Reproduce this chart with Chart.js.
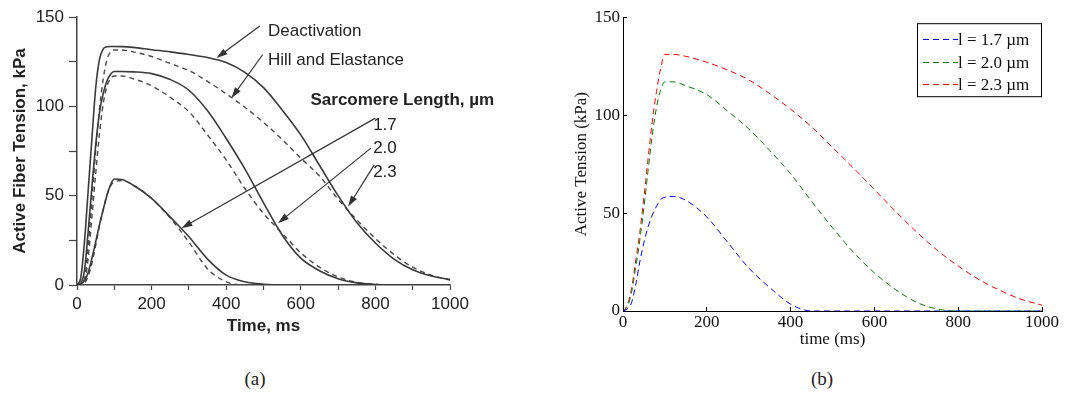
<!DOCTYPE html>
<html>
<head>
<meta charset="utf-8">
<script src="https://cdn.jsdelivr.net/npm/chart.js@4.4.0/dist/chart.umd.min.js"></script>
<style>
  html, body { margin: 0; padding: 0; background: #fff; }
  body { width: 1066px; height: 395px; position: relative; overflow: hidden; }
  #boxA { position: absolute; left: 0; top: 0; width: 530px; height: 340px; }
  #boxB { position: absolute; left: 540px; top: 0; width: 526px; height: 360px; }
  .cap { position: absolute; top: 369px; width: 100px; text-align: center; line-height: 1;
         font-family: "Liberation Serif", serif; font-size: 19px; color: #222; }
</style>
</head>
<body>
<div id="boxA"><canvas id="chartA"></canvas></div>
<div id="boxB"><canvas id="chartB"></canvas></div>
<div class="cap" style="left:205px">(a)</div>
<div class="cap" style="left:772px">(b)</div>
<script>
// time samples (ms), shared by both panels
const timeA = [0, 10, 20, 30, 40, 50, 60, 70, 80, 90, 100, 120, 150, 200, 250, 300, 350, 400, 450, 500, 550, 600, 650, 700, 750, 800, 850, 900, 950, 1000];
const timeB = timeA;

// (a) published curves: deactivation model (solid) and Hill/elastance model (dashed), kPa
const deact17 = [0, 0.5, 2.5, 7, 15, 24, 33.5, 42, 50, 56, 59.3, 59, 56, 48.5, 38, 27, 14.5, 5.5, 1.8, 0.4, 0, 0, 0, 0, 0, 0, 0, 0, 0, 0];
const deact20 = [0, 1, 8, 30, 55, 78, 96, 107, 114, 118, 119.5, 119.5, 119.3, 118.3, 115, 109, 97.5, 82, 65, 46, 28, 15, 8, 3.5, 1.2, 0.3, 0, 0, 0, 0];
const deact23 = [0, 4, 24, 53, 82, 110, 126, 132, 133.3, 133.5, 133.5, 133.4, 133, 131.7, 130.5, 129, 127.3, 124.5, 119, 110.5, 98, 84, 67, 50, 35, 23.5, 14.5, 8.5, 5, 3];
const hill17 = [0, 0, 1, 5, 12, 22, 33, 42, 50, 55.5, 57.5, 58.5, 56, 48.5, 37.5, 24, 9, 1.8, 0, 0, 0, 0, 0, 0, 0, 0, 0, 0, 0, 0];
const hill20 = [0, 0.3, 2, 15, 38, 62, 84, 101, 111, 115.5, 117, 117, 115.5, 111.5, 105, 97, 84, 70, 54, 40, 29, 18, 10, 4.5, 1.5, 0.4, 0, 0, 0, 0];
const hill23 = [0, 0.5, 3, 22, 48, 75, 98, 115, 126, 130.5, 131.5, 131.5, 130.5, 127.9, 124, 120, 114, 107, 99.5, 91, 81.5, 71, 61, 48, 36.5, 26, 17, 10, 5.5, 2.8];

// (b) model curves, kPa
const model17 = [0, 1, 4, 13, 25, 35, 43, 49, 53.5, 57, 58, 58.5, 56.5, 48, 35, 22, 12, 3.5, 0, 0, 0, 0, 0, 0, 0, 0, 0, 0, 0, 0];
const model20 = [0, 2, 9, 22, 36, 53, 72, 90, 104, 113, 117, 117, 115, 110.5, 102, 93, 82, 70, 56, 42.5, 30, 19.5, 11, 4.5, 1, 0, 0, 0, 0, 0];
const model23 = [0, 3, 11, 25, 40, 58, 78, 97, 112, 124, 131, 131, 130, 127, 123, 118, 111, 103, 94, 83.5, 73, 62, 51, 40.5, 31, 23, 16, 10.5, 6, 3];
const legendLabelsB = ['l = 1.7 \u00b5m', 'l = 2.0 \u00b5m', 'l = 2.3 \u00b5m'];

// tick labels
const xTickLabelsA = [0, 200, 400, 600, 800, 1000];
const yTickLabelsA = [0, 50, 100, 150];

// annotations of panel (a), in data units (text is vertically centred on y)
const notesA = [
  { text: 'Deactivation', x: 512, y: 141.8 },
  { text: 'Hill and Elastance', x: 512, y: 125.5 },
  { text: 'Sarcomere Length, \u00b5m', x: 626, y: 103.6, bold: true },
  { text: '1.7', x: 794, y: 89.2 },
  { text: '2.0', x: 794, y: 76.3 },
  { text: '2.3', x: 794, y: 63.3 }
];
const arrowsA = [
  { x1: 490, y1: 145, x2: 374, y2: 127 },
  { x1: 498, y1: 129, x2: 414, y2: 104.6 },
  { x1: 800, y1: 93.4, x2: 280, y2: 31.8 },
  { x1: 788, y1: 76.6, x2: 539, y2: 34.6 },
  { x1: 797, y1: 67.2, x2: 727, y2: 43.9 }
];

const pts = (t, v) => t.map((x, i) => ({ x: x, y: v[i] }));

const annotA = {
  id: 'annotA',
  afterDatasetsDraw(chart) {
    const { ctx, scales: { x, y } } = chart;
    ctx.save();
    ctx.fillStyle = '#222';
    ctx.textAlign = 'left';
    ctx.textBaseline = 'middle';
    notesA.forEach(n => {
      ctx.font = (n.bold ? 'bold ' : '') + '17px "Liberation Sans", Arial, sans-serif';
      ctx.fillText(n.text, x.getPixelForValue(n.x), y.getPixelForValue(n.y));
    });
    ctx.strokeStyle = '#333';
    ctx.fillStyle = '#333';
    ctx.lineWidth = 1.2;
    arrowsA.forEach(a => {
      const x1 = x.getPixelForValue(a.x1), y1 = y.getPixelForValue(a.y1);
      const x2 = x.getPixelForValue(a.x2), y2 = y.getPixelForValue(a.y2);
      const ang = Math.atan2(y2 - y1, x2 - x1);
      ctx.beginPath();
      ctx.moveTo(x1, y1);
      ctx.lineTo(x2 - 8 * Math.cos(ang), y2 - 8 * Math.sin(ang));
      ctx.stroke();
      ctx.beginPath();
      ctx.moveTo(x2, y2);
      ctx.lineTo(x2 - 11 * Math.cos(ang) + 3.5 * Math.sin(ang), y2 - 11 * Math.sin(ang) - 3.5 * Math.cos(ang));
      ctx.lineTo(x2 - 11 * Math.cos(ang) - 3.5 * Math.sin(ang), y2 - 11 * Math.sin(ang) + 3.5 * Math.cos(ang));
      ctx.closePath();
      ctx.fill();
    });
    ctx.restore();
  }
};

const legendB = {
  id: 'legendB',
  afterDraw(chart) {
    const { ctx, chartArea } = chart;
    const x0 = chartArea.right - 125, y0 = chartArea.top + 6;
    ctx.save();
    ctx.fillStyle = '#fff';
    ctx.fillRect(x0, y0, 124, 73);
    ctx.strokeStyle = '#000';
    ctx.lineWidth = 1;
    ctx.strokeRect(x0 + 0.5, y0 + 0.5, 124, 73);
    ctx.font = '17px "Liberation Serif", "Times New Roman", serif';
    ctx.textBaseline = 'middle';
    ctx.textAlign = 'left';
    chart.data.datasets.forEach((ds, i) => {
      const cy = Math.round(y0 + 15.7 + i * 22.7) + 0.5;
      ctx.strokeStyle = ds.borderColor;
      ctx.setLineDash(ds.borderDash);
      ctx.beginPath();
      ctx.moveTo(x0 + 6, cy);
      ctx.lineTo(x0 + 41, cy);
      ctx.stroke();
      ctx.setLineDash([]);
      ctx.fillStyle = '#111';
      ctx.fillText(ds.label, x0 + 41, cy + 1);
    });
    ctx.restore();
  }
};

const sansA = '"Liberation Sans", Arial, sans-serif';
const solidA = { borderColor: '#3a3a3a', borderWidth: 1.6, pointRadius: 0, cubicInterpolationMode: 'monotone' };
const dashA = { borderColor: '#4a4a4a', borderWidth: 1.4, borderDash: [5, 4], pointRadius: 0, cubicInterpolationMode: 'monotone' };

new Chart(document.getElementById('chartA'), {
  type: 'line',
  data: {
    datasets: [
      { label: 'Deactivation 1.7', data: pts(timeA, deact17), ...solidA },
      { label: 'Deactivation 2.0', data: pts(timeA, deact20), ...solidA },
      { label: 'Deactivation 2.3', data: pts(timeA, deact23), ...solidA },
      { label: 'Hill and Elastance 1.7', data: pts(timeA, hill17), ...dashA },
      { label: 'Hill and Elastance 2.0', data: pts(timeA, hill20), ...dashA },
      { label: 'Hill and Elastance 2.3', data: pts(timeA, hill23), ...dashA }
    ]
  },
  options: {
    responsive: true,
    maintainAspectRatio: false,
    animation: false,
    layout: { padding: { top: 17, right: 80, left: 0, bottom: 0 } },
    plugins: { legend: { display: false }, tooltip: { enabled: false } },
    scales: {
      x: {
        type: 'linear', min: 0, max: 1000,
        ticks: {
          stepSize: 100, autoSkip: false, maxRotation: 0, padding: 4, color: '#222',
          font: { family: sansA, size: 17 },
          callback: v => xTickLabelsA.includes(v) ? String(v) : ''
        },
        grid: { drawOnChartArea: false, tickLength: 5, tickColor: '#444', tickWidth: 1.2 },
        border: { color: '#444', width: 1.5 },
        title: { display: true, text: 'Time, ms', color: '#222', font: { family: sansA, size: 17, weight: 'bold' }, padding: { top: 0, bottom: 3 } },
        afterFit: s => { s.height = 55; }
      },
      y: {
        min: 0, max: 150,
        ticks: {
          stepSize: 25, autoSkip: false, padding: 5, color: '#222',
          font: { family: sansA, size: 17 },
          callback: v => yTickLabelsA.includes(v) ? String(v) : ''
        },
        grid: { drawOnChartArea: false, tickLength: 8, tickColor: '#444', tickWidth: 1.2 },
        border: { color: '#444', width: 1.5 },
        title: { display: true, text: 'Active Fiber Tension, kPa', color: '#222', font: { family: sansA, size: 17, weight: 'bold' }, padding: { top: 10, bottom: 0 } },
        afterFit: s => { s.width = 77; }
      }
    }
  },
  plugins: [annotA]
});

const serifB = '"Liberation Serif", "Times New Roman", serif';
const dashB = { borderWidth: 1, borderDash: [6, 4], pointRadius: 0, cubicInterpolationMode: 'monotone' };

new Chart(document.getElementById('chartB'), {
  type: 'line',
  data: {
    datasets: [
      { label: legendLabelsB[0], data: pts(timeB, model17), borderColor: '#0000ff', ...dashB },
      { label: legendLabelsB[1], data: pts(timeB, model20), borderColor: '#008000', ...dashB },
      { label: legendLabelsB[2], data: pts(timeB, model23), borderColor: '#ff0000', ...dashB }
    ]
  },
  options: {
    responsive: true,
    maintainAspectRatio: false,
    animation: false,
    layout: { padding: { top: 16, right: 24, left: 0, bottom: 0 } },
    plugins: { legend: { display: false }, tooltip: { enabled: false } },
    scales: {
      x: {
        type: 'linear', min: 0, max: 1000,
        ticks: { stepSize: 200, autoSkip: false, maxRotation: 0, padding: 5, color: '#111', font: { family: serifB, size: 17 }, callback: v => String(v) },
        grid: { drawOnChartArea: false, tickLength: -4, tickColor: '#000' },
        border: { color: '#000', width: 1 },
        title: { display: true, text: 'time (ms)', color: '#111', font: { family: serifB, size: 17 }, padding: { top: 0, bottom: 10 } },
        afterFit: s => { s.height = 49; }
      },
      y: {
        min: 0, max: 150,
        ticks: { stepSize: 50, autoSkip: false, padding: 7, color: '#111', font: { family: serifB, size: 17 }, callback: v => String(v) },
        grid: { drawOnChartArea: false, tickLength: -4, tickColor: '#000' },
        border: { color: '#000', width: 1 },
        title: { display: true, text: 'Active Tension (kPa)', color: '#111', font: { family: serifB, size: 17 }, padding: { top: 31, bottom: 0 } },
        afterFit: s => { s.width = 83; }
      }
    }
  },
  plugins: [legendB]
});
</script>
</body>
</html>
